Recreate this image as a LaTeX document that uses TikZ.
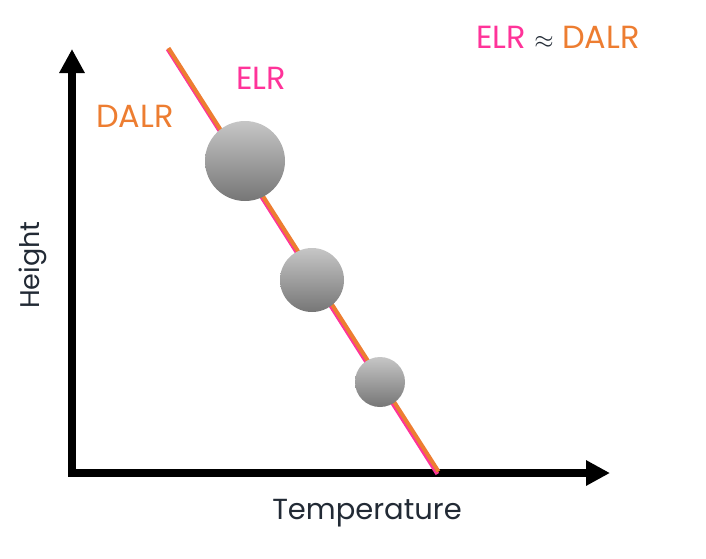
\documentclass[tikz,border=0pt]{standalone}
\usepackage{fontspec}
\setmainfont{Poppins}
\usetikzlibrary{arrows.meta}
\definecolor{elrpink}{RGB}{255,51,153}
\definecolor{dalrorange}{RGB}{237,125,49}
\definecolor{axisink}{RGB}{34,42,53}
\definecolor{parceltop}{RGB}{198,198,198}
\definecolor{parcelbot}{RGB}{118,118,118}
\tikzset{
  axisline/.style={line width=8pt, black, line join=miter,
    {Triangle[length=24pt,width=24pt]}-{Triangle[length=24pt,width=24pt]}},
  parcel/.style={circle, inner sep=0pt, top color=parceltop, bottom color=parcelbot, draw=none},
  lbl/.style={font=\fontsize{32}{36}\selectfont}
}

\begin{document}
\begin{tikzpicture}[x=1pt, y=-1pt]
    \useasboundingbox (0,0) rectangle (706,558);
    \draw[axisline] (72,49) |- (610,473);
    \draw[elrpink, line width=4pt] (167.6,49) -- (437.4,474);
    \draw[dalrorange, line width=4pt] (168.5,48) -- (438.5,471.5);
    \node[parcel, minimum size=80pt] (big) at (245,161) {};
    \node[parcel, minimum size=64pt] (mid) at (312,280) {};
    \node[parcel, minimum size=50pt] (small) at (380,382) {};
    \node[lbl, text=dalrorange] (dalr) at (135,116) {DALR};
    \node[lbl, text=elrpink] (elr) at (261,78) {ELR};
    \node[lbl] (same) at (558,37) {\textcolor{elrpink}{ELR} \textcolor{axisink}{$\approx$} \textcolor{dalrorange}{DALR}};
    \node[lbl, text=axisink, font=\fontsize{29}{32}\selectfont] (temp) at (367,513) {Temperature};
    \node[lbl, text=axisink, font=\fontsize{27}{30}\selectfont, rotate=90] (height) at (33,265) {Height};
\end{tikzpicture}
\end{document}
